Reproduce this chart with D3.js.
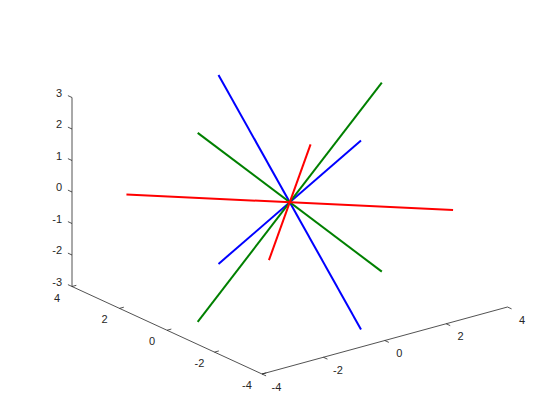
<!DOCTYPE html>
<html>
<head>
<meta charset="utf-8">
<script src="https://cdn.jsdelivr.net/npm/d3@7"></script>
<style>
  html, body { margin: 0; padding: 0; background: #ffffff; }
  svg { display: block; }
  text { font-family: "Liberation Sans", Arial, Helvetica, sans-serif; font-size: 11px; fill: #262626; }
</style>
</head>
<body>
<svg id="chart" width="560" height="420"></svg>
<script>
// ---- data ----
const xLim = [-4, 4];
const yLim = [-4, 4];
const zLim = [-3, 3];
const xTicks = [-4, -2, 0, 2, 4];
const yTicks = [-4, -2, 0, 2, 4];
const zTicks = [-3, -2, -1, 0, 1, 2, 3];

// each series: two line segments through the origin, as [x, y, z] endpoints
const blueLines = [
  [[0, 3, 3], [0, -3, -3]],
  [[0, -3, 3], [0, 3, -3]]
];
const greenLines = [
  [[-3, 0, 3], [3, 0, -3]],
  [[3, 0, 3], [-3, 0, -3]]
];
const redLines = [
  [[-3, 3, 0], [3, -3, 0]],
  [[3, 3, 0], [-3, -3, 0]]
];
const seriesColors = ["#0000ff", "#008000", "#ff0000"];

// ---- projection (MATLAB default 3-D view) via d3 scales ----
const origin = [289.75, 202.25];
const xPx = d3.scaleLinear().domain(xLim).range([-122.75, 122.75]);
const xPy = d3.scaleLinear().domain(xLim).range([33.5, -33.5]);
const yPx = d3.scaleLinear().domain(yLim).range([95, -95]);
const yPy = d3.scaleLinear().domain(yLim).range([43.75, -43.75]);
const zPy = d3.scaleLinear().domain(zLim).range([94.5, -94.5]);

function proj(p) {
  return [origin[0] + xPx(p[0]) + yPx(p[1]),
          origin[1] + xPy(p[0]) + yPy(p[1]) + zPy(p[2])];
}
function unit(v) { const l = Math.hypot(v[0], v[1]); return [v[0] / l, v[1] / l]; }

const svg = d3.select("#chart");
const line = d3.line();
const axisG = svg.append("g").attr("stroke", "#262626").attr("stroke-width", 0.8).attr("fill", "none");

// axis lines
const xMin = xLim[0], xMax = xLim[1], yMin = yLim[0], yMax = yLim[1], zMin = zLim[0], zMax = zLim[1];
axisG.append("path").attr("d", line([proj([xMin, yMin, zMin]), proj([xMax, yMin, zMin])])); // x axis
axisG.append("path").attr("d", line([proj([xMin, yMax, zMin]), proj([xMin, yMin, zMin])])); // y axis
axisG.append("path").attr("d", line([proj([xMin, yMax, zMin]), proj([xMin, yMax, zMax])])); // z axis

// tick directions
const dirY = unit([xPx(1) - xPx(0), xPy(1) - xPy(0)]);   // +x direction
const dirZ = unit([yPx(1) - yPx(0), yPy(1) - yPy(0)]);   // +y direction
const dirX = [-dirZ[0], -dirZ[1]];                       // -y direction
const tl = 4.5;

xTicks.forEach(t => {
  const p = proj([t, yMin, zMin]);
  axisG.append("path").attr("d", line([p, [p[0] + dirX[0] * tl, p[1] + dirX[1] * tl]]));
  svg.append("text").attr("x", p[0] + 14.5).attr("y", p[1] + 12.5 + 4)
    .attr("text-anchor", "middle").text(t);
});
yTicks.forEach(t => {
  const p = proj([xMin, t, zMin]);
  axisG.append("path").attr("d", line([p, [p[0] + dirY[0] * tl, p[1] + dirY[1] * tl]]));
  svg.append("text").attr("x", p[0] - 15).attr("y", p[1] + 11 + 4)
    .attr("text-anchor", "middle").text(t);
});
zTicks.forEach(t => {
  const p = proj([xMin, yMax, t]);
  axisG.append("path").attr("d", line([p, [p[0] + dirZ[0] * tl, p[1] + dirZ[1] * tl]]));
  svg.append("text").attr("x", p[0] - 10).attr("y", p[1] - 5 + 4)
    .attr("text-anchor", "end").text(t);
});

// data lines
[blueLines, greenLines, redLines].forEach((segs, i) => {
  svg.append("g").selectAll("path").data(segs).join("path")
    .attr("d", d => line(d.map(proj)))
    .attr("fill", "none")
    .attr("stroke", seriesColors[i])
    .attr("stroke-width", 2);
});
</script>
</body>
</html>
